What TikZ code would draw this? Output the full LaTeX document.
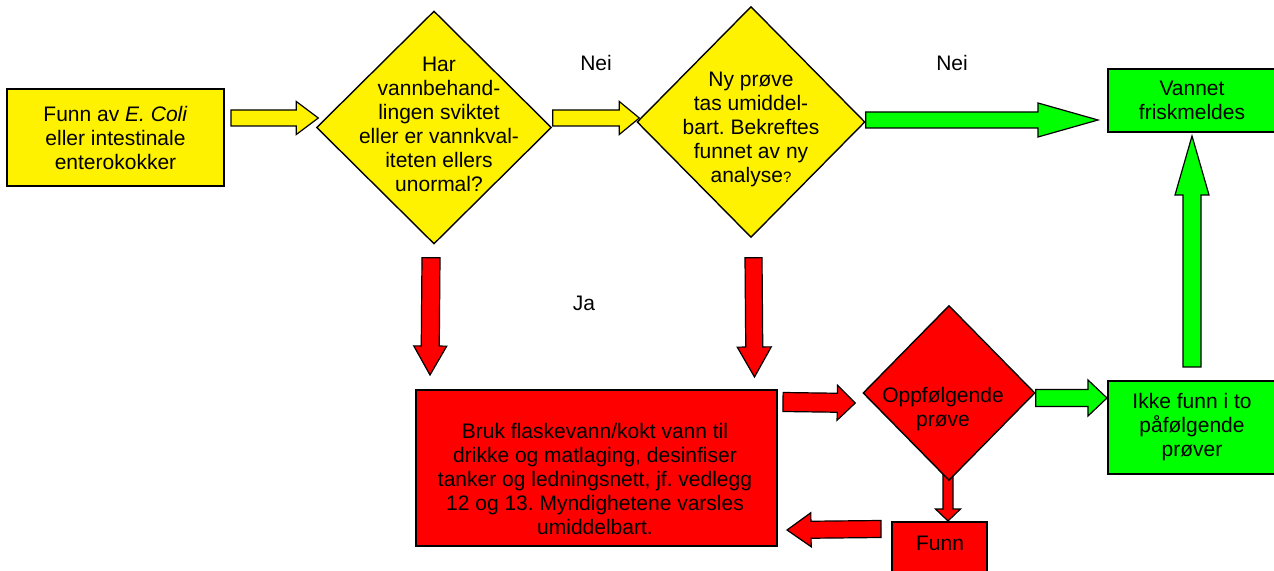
\documentclass[tikz,border=0pt]{standalone}
\usepackage{fontspec}
\setmainfont{Liberation Sans}
\usepackage{tikz}
\usetikzlibrary{positioning,calc,shapes.geometric,backgrounds}
\frenchspacing

\tikzset{blockarrow/.style n args={3}{draw=black,line width=.6pt,
  to path={let \p1=(\tikztostart), \p2=(\tikztotarget),
    \n1={veclen(\x2-\x1,\y2-\y1)}, \n2={atan2(\y2-\y1,\x2-\x1)} in
    ($(\p1)+(\n2+90:#1/2)$) -- ($(\p1)+(\n2:\n1-#3)+(\n2+90:#1/2)$)
    -- ($(\p1)+(\n2:\n1-#3)+(\n2+90:#2/2)$) -- (\p2)
    -- ($(\p1)+(\n2:\n1-#3)+(\n2-90:#2/2)$)
    -- ($(\p1)+(\n2:\n1-#3)+(\n2-90:#1/2)$)
    -- ($(\p1)+(\n2-90:#1/2)$) -- cycle}},
  yarrow/.style n args={3}{blockarrow={#1}{#2}{#3},fill=yellow},
  rarrow/.style n args={3}{blockarrow={#1}{#2}{#3},fill=red},
  garrow/.style n args={3}{blockarrow={#1}{#2}{#3},fill=green}}

\begin{document}
\begin{tikzpicture}[x=.5pt,y=-.5pt,font=\fontsize{10.5}{12}\selectfont]
\tikzstyle{box}=[draw=black,line width=1pt,inner sep=0pt,align=center]
\tikzstyle{dia}=[draw=black,diamond,line width=.7pt,inner sep=0pt]
\tikzstyle{txt}=[align=center,inner sep=0pt]
\tikzstyle{lbl}=[inner sep=0pt]
\useasboundingbox (0,0) rectangle (1274,571);
\node [box,fill=yellow,minimum width=108.5pt,minimum height=48.5pt] (start) at (115.5,137.5) {Funn av \textit{E. Coli}\\eller intestinale\\enterokokker};
\node [dia,fill=yellow,minimum width=117.5pt,minimum height=116.5pt] (d1) at (434,127.5) {};
\node [txt] (d1t) at (439,124) {Har\\vannbehand-\\lingen sviktet\\eller er vannkval-\\iteten ellers\\unormal?};
\node [dia,fill=yellow,minimum width=114pt,minimum height=115.5pt] (d2) at (751,122) {};
\node [txt] (d2t) at (751,129) {Ny prøve\\tas umiddel-\\bart. Bekreftes\\funnet av ny\\analyse{\fontsize{7.5}{9}\selectfont ?}};
\node [box,fill=green,minimum width=84pt,minimum height=31.5pt] (vannet) at (1192,100.5) {Vannet\\friskmeldes};
\node [box,fill=red,minimum width=180.5pt,minimum height=78pt] (redbox) at (596.5,468) {};
\node [txt] (redt) at (595,479) {Bruk flaskevann/kokt vann til\\drikke og matlaging, desinfiser\\tanker og ledningsnett, jf. vedlegg\\12 og 13. Myndighetene varsles\\umiddelbart.};
\node [dia,fill=red,minimum width=86pt,minimum height=87.5pt] (d3) at (949,393) {};
\node [txt] (d3t) at (943,409.5) {Oppfølgende\\prøve};
\node [box,fill=green,minimum width=84pt,minimum height=46.5pt] (ikke) at (1192,427.5) {Ikke funn i to\\påfølgende\\prøver};
\node [box,fill=red,minimum width=47.5pt,minimum height=26.5pt] (funn) at (939.5,548.5) {};
\node [txt] (funnt) at (940,543) {Funn};
\node [lbl] (nei1) at (596,63) {Nei};
\node [lbl] (nei2) at (952,63) {Nei};
\node [lbl] (ja) at (584,303) {Ja};
\draw [yarrow={8pt}{16.5pt}{11pt}] ($(start.east)+(6,-19.5)$) to ($(d1.west)+(2.5,-9.5)$);
\draw [yarrow={8pt}{16.5pt}{10pt}] ($(d1.east)+(.5,-9.5)$) to ($(d2.west)+(3,-4)$);
\draw [garrow={8pt}{17pt}{30pt}] ($(d2.east)+(0,-2)$) to ($(vannet.west)+(-9,19.5)$);
\draw [rarrow={9pt}{16.5pt}{14.5pt}] ($(d1.south)+(-3,13)$) to ($(redbox.north west)+(15,-14)$);
\draw [rarrow={8.5pt}{17pt}{15pt}] ($(d2.south)+(2.5,19.5)$) to ($(redbox.north east)+(-23.5,-12)$);
\draw [rarrow={9.5pt}{17.5pt}{9pt}] ($(redbox.north east)+(5,13)$) to ($(d3.west)+(-7,10)$);
\draw [garrow={8.5pt}{18pt}{9.5pt}] ($(d3.east)+(0,5)$) to ($(ikke.west)+(0,-29.5)$);
\draw [garrow={9pt}{17pt}{29.5pt}] ($(ikke.north)+(0,-13)$) to ($(vannet.south)+(0,3)$);
\draw [rarrow={8.5pt}{17pt}{12pt}] ($(funn.west)+(-10,-19.5)$) to ($(redbox.south east)+(9,-17)$);
\begin{scope}[on background layer]
\draw [rarrow={5pt}{12.5pt}{6pt}] ($(d3.south)+(-1,-9)$) to ($(funn.north)+(8.5,0)$);
\end{scope}
\end{tikzpicture}
\end{document}
